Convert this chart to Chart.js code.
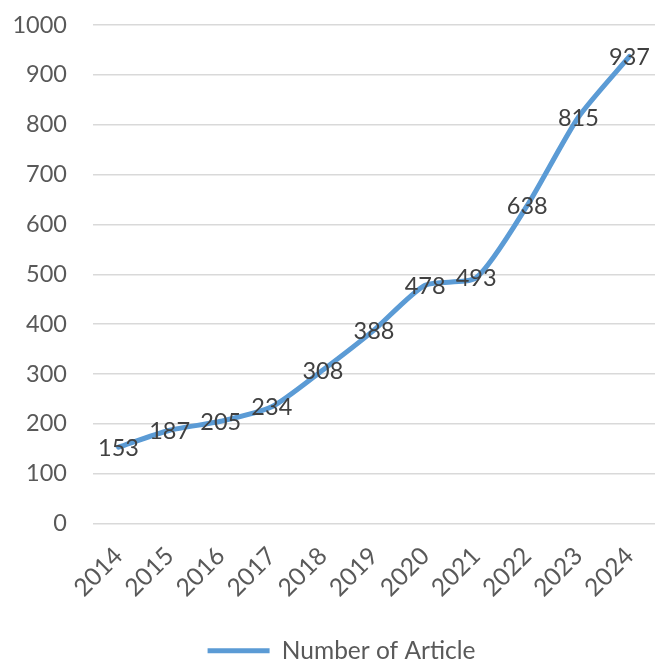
<!DOCTYPE html>
<html lang="en">
  <head>
    <meta charset="UTF-8" />
    <title>Number of Article</title>
    <script src="https://cdn.jsdelivr.net/npm/chart.js@4.4.1/dist/chart.umd.min.js"></script>
    <style>
      html,
      body {
        margin: 0;
        padding: 0;
        background: #fff;
      }
      .chart-container {
        width: 663px;
        height: 668px;
      }
    </style>
  </head>
  <body>
    <div class="chart-container">
      <canvas id="chart" width="663" height="668"></canvas>
    </div>
    <script>
      const years = ["2014", "2015", "2016", "2017", "2018", "2019", "2020", "2021", "2022", "2023", "2024"];
      const articles = [153, 187, 205, 234, 308, 388, 478, 493, 638, 815, 937];
      const seriesName = "Number of Article";

      const blue = "#5b9bd5";
      const font = "Lato, 'Open Sans', sans-serif";

      // value labels drawn centred on each point, over the line
      const pointLabels = {
        id: "pointLabels",
        afterLayout(chart) {
          // legend sits a little right of centre
          chart.legend.left += 14;
          chart.legend.right += 14;
        },
        afterDatasetsDraw(chart) {
          const ctx = chart.ctx;
          const meta = chart.getDatasetMeta(0);
          ctx.save();
          ctx.font = "23.5px " + font;
          ctx.fillStyle = "#404040";
          ctx.textAlign = "center";
          ctx.textBaseline = "middle";
          meta.data.forEach((pt, i) => {
            ctx.fillText(String(articles[i]), pt.x, pt.y + 1);
          });
          ctx.restore();
        },
      };

      new Chart(document.getElementById("chart").getContext("2d"), {
        type: "line",
        data: {
          labels: years,
          datasets: [
            {
              label: seriesName,
              data: articles,
              borderColor: blue,
              backgroundColor: blue,
              borderWidth: 5,
              tension: 0.22,
              pointRadius: 0,
              borderCapStyle: "round",
              fill: false,
            },
          ],
        },
        options: {
          responsive: false,
          animation: false,
          layout: { padding: { top: 25, right: 8, left: 0, bottom: -5 } },
          plugins: {
            tooltip: { enabled: false },
            legend: {
              position: "bottom",
              labels: {
                color: "#595959",
                font: { family: font, size: 24.5 },
                boxWidth: 62,
                boxHeight: 5,
                padding: 2,
                useBorderRadius: true,
                borderRadius: 2.5,
                generateLabels: (chart) =>
                  chart.data.datasets.map((ds, i) => ({
                    text: ds.label,
                    fillStyle: blue,
                    strokeStyle: blue,
                    lineWidth: 0,
                    fontColor: "#595959",
                    datasetIndex: i,
                  })),
              },
            },
          },
          scales: {
            x: {
              offset: true,
              grid: { display: false },
              border: { display: false },
              ticks: {
                color: "#595959",
                font: { family: font, size: 24.5 },
                minRotation: 45,
                maxRotation: 45,
                padding: 10,
              },
              afterFit: (scale) => {
                scale.height = 113;
              },
            },
            y: {
              min: 0,
              max: 1000,
              ticks: {
                stepSize: 100,
                color: "#595959",
                font: { family: font, size: 23.5 },
                padding: 26,
                callback: (v) => String(v),
              },
              grid: { color: "#d9d9d9", lineWidth: 1.5, drawTicks: false },
              border: { display: false },
              afterFit: (scale) => {
                scale.width = 93;
                // tick padding is only for the horizontal gap
                scale.paddingTop = 0;
                scale.paddingBottom = 0;
              },
            },
          },
        },
        plugins: [pointLabels],
      });
    </script>
  </body>
</html>
